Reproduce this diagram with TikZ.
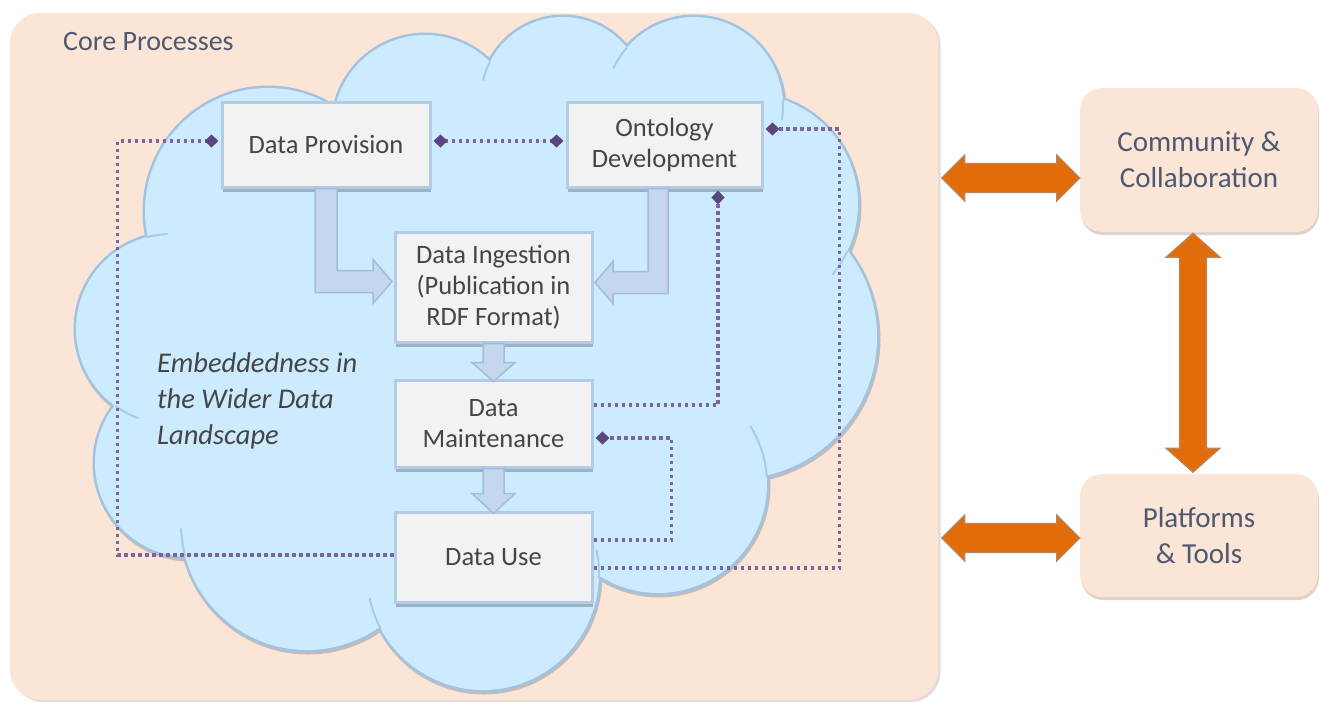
\documentclass[tikz,border=0pt]{standalone}
\usepackage{fontspec}
\setmainfont{Carlito}
\usetikzlibrary{arrows.meta,calc,shadows}

\definecolor{peach}{HTML}{FBE5D6}
\definecolor{peachshadow}{HTML}{E4DDD7}
\definecolor{sideshadow}{HTML}{DCD3CB}
\definecolor{cloudfill}{HTML}{CCEBFE}
\definecolor{cloudline}{HTML}{A3C2E0}
\definecolor{cloudshadow}{HTML}{C4BCB5}
\definecolor{cloudinner}{HTML}{A9CBEA}
\definecolor{boxfill}{HTML}{F2F2F2}
\definecolor{boxline}{HTML}{B3CBE4}
\definecolor{boxshadow}{HTML}{9DB1C5}
\definecolor{flowfill}{HTML}{C5D6EF}
\definecolor{flowline}{HTML}{A2BDDC}
\definecolor{dotpurple}{HTML}{7A659E}
\definecolor{markpurple}{HTML}{5B4680}
\definecolor{txtgray}{HTML}{454545}
\definecolor{txtblue}{HTML}{4E5870}
\definecolor{orangefill}{HTML}{E36C0A}
\definecolor{orangeline}{HTML}{B78460}

\begin{document}
\begin{tikzpicture}[x=1pt,y=-1pt,
  corebox/.style={fill=peach, rounded corners=30pt, inner sep=0pt,
    drop shadow={shadow xshift=2.5pt,shadow yshift=-2pt,opacity=1,fill=peachshadow}},
  procbox/.style={draw=boxline, line width=3pt, fill=boxfill, align=center,
    text=txtgray, font=\fontsize{26.5}{31}\selectfont, inner sep=0pt,
    drop shadow={shadow xshift=0.5pt,shadow yshift=-5pt,opacity=1,fill=boxshadow}},
  sidebox/.style={fill=peach, rounded corners=22pt, align=center, inner sep=0pt,
    text=txtblue, font=\fontsize{29}{36}\selectfont,
    drop shadow={shadow xshift=1pt,shadow yshift=-3pt,opacity=1,fill=sideshadow}},
  flow/.style={fill=flowfill, draw=flowline, line width=1.5pt, line join=miter},
  orangeblk/.style={fill=orangefill, draw=orangeline, line width=1.2pt, line join=miter},
  dots/.style={draw=dotpurple, line width=3.4pt, dash pattern=on 3.4pt off 3.6pt},
  mkend/.style={-{Diamond[length=14pt,width=13pt,color=markpurple]}, shorten >=2pt},
  mkboth/.style={{Diamond[length=14pt,width=13pt,color=markpurple]}-{Diamond[length=14pt,width=13pt,color=markpurple]},
    shorten >=2pt, shorten <=2pt},
]
\useasboundingbox (0,0) rectangle (1320,702);

% core processes panel
\node[corebox, minimum width=928pt, minimum height=687pt] (core) at (474,356.5) {};
\node[anchor=west, inner sep=0pt, text=txtblue, font=\fontsize{28}{34}\selectfont] (coretitle) at (63,42) {Core Processes};

% cloud: union of circles (shadow, outline, then fill)
\foreach \cx/\cy/\r in {268/211/123, 425/127/92, 563/99/82, 694/106/89, 748/204/110,
  735/337/142, 658/484/109, 483/574/116, 307/524/126, 189/463/94, 171/329/95}
  \draw[cloudshadow, line width=5pt] (\cx+1,\cy+2) circle[radius=\r];
\foreach \cx/\cy/\r in {268/211/123, 425/127/92, 563/99/82, 694/106/89, 748/204/110,
  735/337/142, 658/484/109, 483/574/116, 307/524/126, 189/463/94, 171/329/95}
  \draw[cloudline, line width=5pt] (\cx,\cy) circle[radius=\r];
\foreach \cx/\cy/\r in {268/211/123, 425/127/92, 563/99/82, 694/106/89, 748/204/110,
  735/337/142, 658/484/109, 483/574/116, 307/524/126, 189/463/94, 171/329/95}
  \fill[cloudfill] (\cx,\cy) circle[radius=\r];
\fill[cloudfill] (268,211) -- (425,127) -- (563,99) -- (694,106) -- (748,204) -- (735,337)
  -- (658,484) -- (483,574) -- (307,524) -- (189,463) -- (171,329) -- cycle;
% short inner arcs at the cloud's folds
\foreach \cx/\cy/\r/\a/\b in {563/99/82/207/193, 694/106/89/221/205, 694/106/89/-4/9,
  748/204/110/25/40, 658/484/109/-4/-32, 483/574/116/2/-12, 483/574/116/152/168,
  307/524/126/165/178, 171/329/95/126/110, 171/329/95/255/268, 425/127/92/192/180}
  \draw[cloudinner, line width=2pt] ($(\cx,\cy)+(\a:\r)$) arc[start angle=\a, end angle=\b, radius=\r];

\node[anchor=west, inner sep=0pt, align=left, text=txtgray,
  font=\itshape\fontsize{28.5}{36}\selectfont] (embed) at (157,401)
  {Embeddedness in\\the Wider Data\\Landscape};

% process boxes
\node[procbox, minimum width=208pt, minimum height=85pt] (prov) at (326,144.5) {Data Provision};
\node[procbox, minimum width=195pt, minimum height=85pt] (onto) at (664.5,144.5) {Ontology\\Development};
\node[procbox, minimum width=197pt, minimum height=110pt] (ingest) at (493.5,287) {Data Ingestion\\(Publication in\\RDF Format)};
\node[procbox, minimum width=197pt, minimum height=87pt] (maint) at (493.5,423.5) {Data\\Maintenance};
\node[procbox, minimum width=197pt, minimum height=90pt] (use) at (493.5,557) {Data Use};

% dotted feedback connectors
\draw[dots, mkboth] ($(prov.east)+(0,-3.5)$) -- ($(onto.west)+(0,-3.5)$);
\draw[dots, mkend] ($(use.west)+(0,-2)$) -| ($(prov.west)+(-103,-3.5)$) -- ($(prov.west)+(0,-3.5)$);
\draw[dots, mkend] ($(use.east)+(0,11)$) -| ($(onto.east)+(76,-15.5)$) -- ($(onto.east)+(0,-15.5)$);
\draw[dots, mkend] ($(maint.east)+(0,-18.5)$) -| ($(onto.south)+(53.5,0)$);
\draw[dots, mkend] ($(use.east)+(0,-17)$) -| ($(maint.east)+(78,14.5)$) -- ($(maint.east)+(0,14.5)$);

% flow arrows between process boxes
\draw[flow] ($(prov.south)+(-11,0)$) -- ++(0,104) -- ++(58,0) -- ++(0,11) -- ++(19,-22)
  -- ++(-19,-22) -- ++(0,11) -- ++(-36,0) -- ++(0,-82) -- cycle;
\draw[flow] ($(onto.south)+(3.5,0)$) -- ++(0,105) -- ++(-55,0) -- ++(0,10) -- ++(-18,-21)
  -- ++(18,-21) -- ++(0,10) -- ++(35,0) -- ++(0,-83) -- cycle;
\draw[flow] ($(ingest.south)+(-10.5,0)$) -- ++(0,19) -- ++(-11,0) -- ++(21.5,19)
  -- ++(21.5,-19) -- ++(-11,0) -- ++(0,-19) -- cycle;
\draw[flow] ($(maint.south)+(-10.5,0)$) -- ++(0,25) -- ++(-11,0) -- ++(21.5,20)
  -- ++(21.5,-20) -- ++(-11,0) -- ++(0,-25) -- cycle;

% surrounding elements
\node[sidebox, minimum width=238pt, minimum height=144pt] (comm) at (1199,160) {Community \&\\Collaboration};
\node[sidebox, minimum width=238pt, minimum height=123pt] (plat) at (1199,535.5) {Platforms\\\& Tools};

% orange double arrows
\draw[orangeblk] ($(comm.west)+(-138,18)$) -- ++(23,-23) -- ++(0,8.5) -- ++(92,0) -- ++(0,-8.5)
  -- ++(23,23) -- ++(-23,23) -- ++(0,-8.5) -- ++(-92,0) -- ++(0,8.5) -- cycle;
\draw[orangeblk] ($(plat.west)+(-138,2.5)$) -- ++(23,-23) -- ++(0,8.5) -- ++(92,0) -- ++(0,-8.5)
  -- ++(23,23) -- ++(-23,23) -- ++(0,-8.5) -- ++(-92,0) -- ++(0,8.5) -- cycle;
\draw[orangeblk] ($(comm.south)+(-6,1)$) -- ++(27,24) -- ++(-13.5,0) -- ++(0,191) -- ++(13.5,0)
  -- ++(-27,24) -- ++(-27,-24) -- ++(13.5,0) -- ++(0,-191) -- ++(-13.5,0) -- cycle;
\end{tikzpicture}
\end{document}
